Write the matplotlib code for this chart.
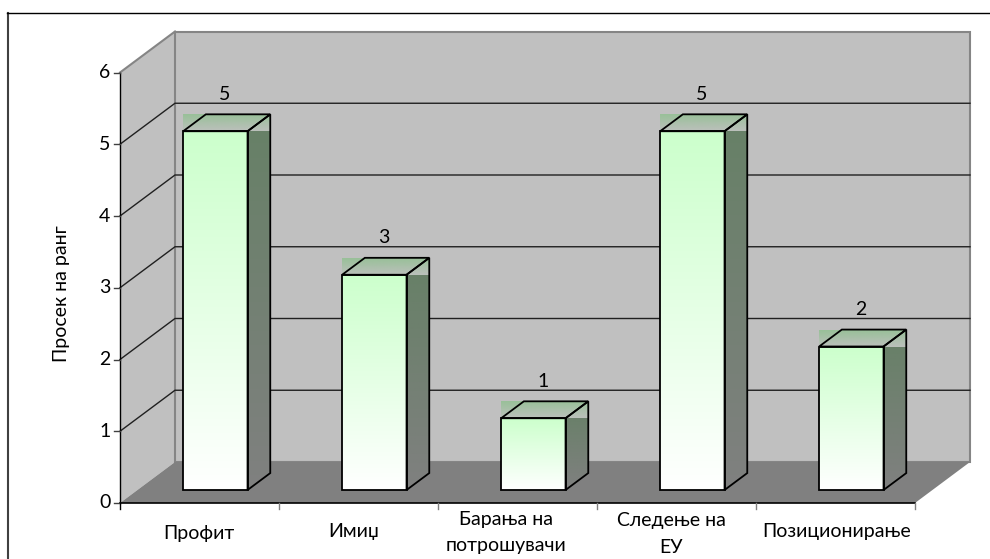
import numpy as np
import matplotlib

matplotlib.use("Agg")
import matplotlib.pyplot as plt
from matplotlib.colors import LinearSegmentedColormap
from matplotlib.lines import Line2D
from matplotlib.patches import Polygon

plt.rcParams["font.family"] = ["Lato", "Noto Sans", "DejaVu Sans"]

categories = ["Профит", "Имиџ", "Барања на\nпотрошувачи", "Следење на\nЕУ", "Позиционирање"]
ranks = [5, 3, 1, 5, 2]
y_ticks = [0, 1, 2, 3, 4, 5, 6]

W, H = 990, 559
# front edge of the 3D box, in pixels
LEFT, RIGHT, BASE, TOP = 120, 915, 503, 72.5
# depth of the box along the projection, in data units
DX = 55 / ((RIGHT - LEFT) / len(categories))
DY = 41 / ((BASE - TOP) / 6)
BAR_W = 0.405
BAR_NEAR, BAR_FAR = 0.317, 0.73

# hand placed category labels (centre x, centre y in pixels)
label_pos = [(199, 533), (354, 531), (506, 532.5), (671, 534), (837, 532)]


def shift(x, y, depth):
    return x + DX * depth, y + DY * depth


def gradient(ax, poly_xy, top, bottom, zorder):
    xs, ys = zip(*poly_xy)
    cmap = LinearSegmentedColormap.from_list("g", [top, bottom])
    img = ax.imshow(
        np.linspace(0, 1, 256).reshape(-1, 1),
        cmap=cmap,
        aspect="auto",
        extent=(min(xs), max(xs), min(ys), max(ys)),
        origin="upper",
        zorder=zorder,
    )
    img.set_clip_path(Polygon(poly_xy, closed=True, transform=ax.transData))


fig = plt.figure(figsize=(W / 100, H / 100), dpi=100)
fig.patch.set_facecolor("white")
ax = fig.add_axes(
    [LEFT / W, 1 - BASE / H, (RIGHT - LEFT) / W, (BASE - TOP) / H]
)
n = len(categories)
ax.axis("off")

# frame of the chart area, open on the right and at the bottom
fig.add_artist(Line2D([7.5 / W, 7.5 / W], [0, 1 - 12.5 / H], color="#404040", lw=1.5))
fig.add_artist(Line2D([7 / W, 1], [1 - 12.5 / H, 1 - 12.5 / H], color="black", lw=1))

# side wall, back wall, floor
gray = "#c0c0c0"
floor = "#808080"
edge = "#858585"
ax.add_patch(Polygon([(0, 0), shift(0, 0, 1), shift(0, 6, 1), (0, 6)],
                     fc=gray, ec="none", zorder=1, clip_on=False))
ax.add_patch(Polygon([shift(0, 0, 1), shift(n, 0, 1), shift(n, 6, 1), shift(0, 6, 1)],
                     fc=gray, ec=edge, lw=1.5, zorder=1, clip_on=False))
ax.add_patch(Polygon([(0, 0), (n, 0), shift(n, 0, 1), shift(0, 0, 1)],
                     fc=floor, ec="none", zorder=2, clip_on=False))

# gridlines run along the side wall and across the back wall
for t in y_ticks[1:-1]:
    ax.plot([0, DX, n + DX], [t, t + DY, t + DY], color="#202020", lw=1,
            zorder=2, clip_on=False, solid_joinstyle="miter")
ax.plot([0, DX], [6, 6 + DY], color=edge, lw=1.5, zorder=2, clip_on=False)

# axis lines and ticks
ax.plot([0, 0], [0, 6], color="black", lw=1, zorder=3, clip_on=False)
ax.plot([0, n], [0, 0], color="black", lw=1.2, zorder=3, clip_on=False)
for t in y_ticks:
    ax.plot([-0.04, 0], [t, t], color="#404040", lw=1, zorder=3, clip_on=False)
    ax.text(-0.06, t, str(t), ha="right", va="center", fontsize=14,
            color="black", clip_on=False)
for i in range(n + 1):
    ax.plot([i, i], [0, -0.09], color="#808080" if i else "black", lw=1,
            zorder=3, clip_on=False)

# bars: front face, side face, see-through top
for i, (label, v) in enumerate(zip(categories, ranks)):
    x0 = i + 0.5 - BAR_W / 2 - 0.01
    x1 = x0 + BAR_W
    a = shift(x0, 0, BAR_NEAR)
    b = shift(x1, 0, BAR_NEAR)
    c = shift(x1, v, BAR_NEAR)
    d = shift(x0, v, BAR_NEAR)
    b2 = shift(x1, 0, BAR_FAR)
    c2 = shift(x1, v, BAR_FAR)
    d2 = shift(x0, v, BAR_FAR)

    gradient(ax, [a, b, c, d], "#ccffcc", "#ffffff", 4)
    gradient(ax, [b, b2, c2, c], "#668066", "#808080", 4)
    gradient(
        ax,
        [(d[0], d2[1]), (c2[0], d2[1]), (c2[0], d[1]), (d[0], d[1])],
        "#98c098", "#bcc0bc", 4,
    )
    for face in ([a, b, c, d], [b, b2, c2, c], [d, c, c2, d2]):
        ax.add_patch(Polygon(face, fill=False, ec="black", lw=1.3, zorder=5,
                             joinstyle="miter", clip_on=False))

    ax.text((d[0] + c2[0]) / 2 - 0.012, d2[1] + 0.28, str(v), ha="center", va="center",
            fontsize=14, color="black", zorder=6)
    px, py = label_pos[i]
    fig.text(px / W, 1 - py / H, label, ha="center", va="center", fontsize=14,
             color="black", linespacing=1.65, multialignment="center")

ax.set_xlim(0, n)
ax.set_ylim(0, 6)

fig.text(62 / W, 1 - 294 / H, "Просек на ранг", rotation=90, ha="center", va="center",
         fontsize=14, color="black")

fig.savefig("out.png", dpi=100)
